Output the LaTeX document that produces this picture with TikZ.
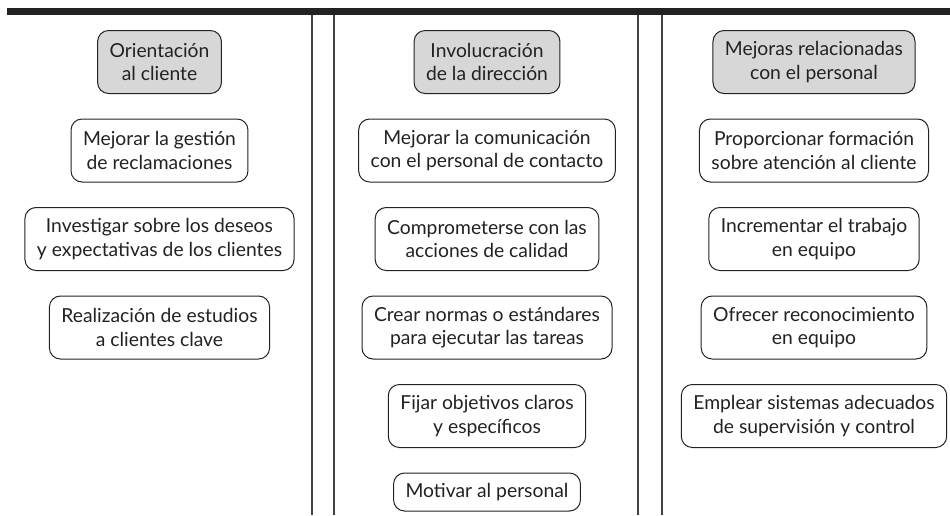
\documentclass[tikz,border=0pt]{standalone}
\usepackage{fontspec}
\setmainfont{Lato}
\usepackage{xcolor}
\usetikzlibrary{positioning}

\definecolor{inkgray}{HTML}{222222}
\definecolor{headgray}{HTML}{D7D7D7}

\begin{document}
\begin{tikzpicture}[
    x=1pt, y=-1pt,
    node distance=24.5pt,
    every node/.style={draw=inkgray, line width=1pt, rounded corners=11pt, align=center,
        text=inkgray, font=\fontsize{19.3}{23.5}\selectfont, inner xsep=12pt, minimum height=63pt},
    head/.style={fill=headgray},
    item/.style={fill=white},
    short/.style={minimum height=38pt},
    rule/.style={draw=inkgray!85, line width=1.3pt}
]
\useasboundingbox (0,0) rectangle (950,515);

% top bar and column rules
\fill[inkgray] (7,8) rectangle (950,15);
\foreach \xr in {312,334,638,662}
    \draw[rule] (\xr,15) -- (\xr,515);

% first column
\node[head] (orient) at (159.5,62) {Orientación\\al cliente};
\node[item, below=of orient] (mgest) {Mejorar la gestión\\de reclamaciones};
\node[item, below=of mgest] (invest) {Investigar sobre los deseos\\y expectativas de los clientes};
\node[item, below=of invest] (realiz) {Realización de estudios\\a clientes clave};

% second column
\node[head] (invol) at (487,62) {Involucración\\de la dirección};
\node[item, below=of invol] (mcom) {Mejorar la comunicación\\con el personal de contacto};
\node[item, below=of mcom] (compr) {Comprometerse con las\\acciones de calidad};
\node[item, below=of compr] (crear) {Crear normas o estándares\\para ejecutar las tareas};
\node[item, below=of crear] (fijar) {Fijar objetivos claros\\y específicos};
\node[item, short, below=of fijar] (motiv) {Motivar al personal};

% third column
\node[head] (mejoras) at (814,62) {Mejoras relacionadas\\con el personal};
\node[item, below=of mejoras] (propor) {Proporcionar formación\\sobre atención al cliente};
\node[item, below=of propor] (increm) {Incrementar el trabajo\\en equipo};
\node[item, below=of increm] (ofrec) {Ofrecer reconocimiento\\en equipo};
\node[item, below=of ofrec] (emplear) {Emplear sistemas adecuados\\de supervisión y control};
\end{tikzpicture}
\end{document}
